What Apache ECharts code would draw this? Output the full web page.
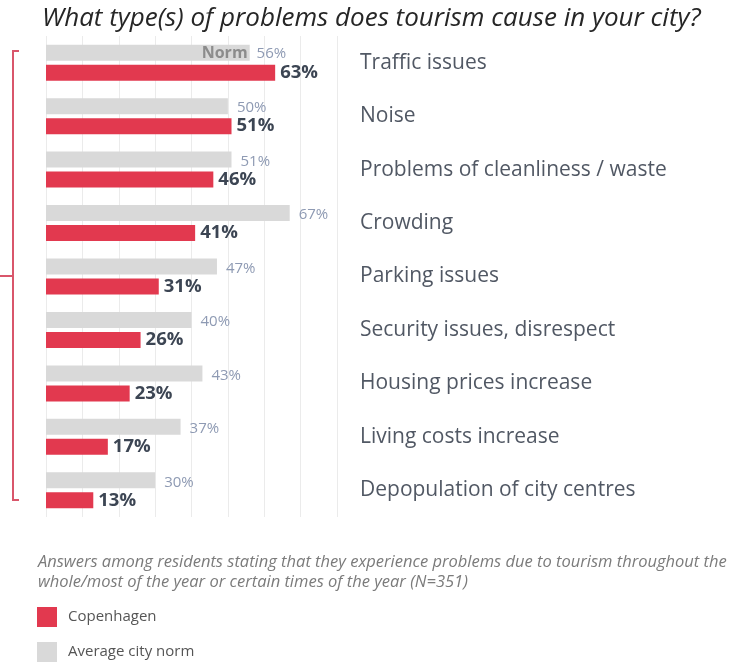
<!DOCTYPE html>
<html>
<head>
<meta charset="utf-8">
<script src="https://cdn.jsdelivr.net/npm/echarts@6/dist/echarts.min.js"></script>
<style>
html,body{margin:0;padding:0;background:#fff;}
#chart{width:731px;height:665px;}
</style>
</head>
<body>
<div id="chart"></div>
<script>
var categories = ['Traffic issues','Noise','Problems of cleanliness / waste','Crowding','Parking issues','Security issues, disrespect','Housing prices increase','Living costs increase','Depopulation of city centres'];
var copenhagen = [63,51,46,41,31,26,23,17,13];
var cityNorm = [56,50,51,67,47,40,43,37,30];
var xTicks = [0,10,20,30,40,50,60,70,80];

var chart = echarts.init(document.getElementById('chart'), null, {renderer:'canvas'});
var FONT = 'Open Sans';

var normData = cityNorm.map(function(v,i){
  if(i===0){
    return {value:v, label:{formatter:'{n|Norm}{v|' + v + '%}', offset:[-57,1]}};
  }
  return v;
});

var option = {
  animation:false,
  backgroundColor:'#fff',
  title:{
    text:'What type(s) of problems does tourism cause in your city?',
    left:37, top:1,
    textStyle:{fontFamily:FONT, fontStyle:'italic', fontWeight:'normal', fontSize:26, color:'#262626'}
  },
  graphic:[
    {type:'polyline', shape:{points:[[19,51],[13,51],[13,500],[19,500]]}, style:{stroke:'#d9566b', lineWidth:2, fill:null}},
    {type:'line', shape:{x1:0,y1:276,x2:13,y2:276}, style:{stroke:'#d9566b', lineWidth:2}},
    {type:'text', left:38, top:552, style:{text:'Answers among residents stating that they experience problems due to tourism throughout the\nwhole/most of the year or certain times of the year (N=351)', font:'italic 16.5px "Open Sans"', fill:'#7b7b7b', lineHeight:20}}
  ],
  legend:{
    data:['Copenhagen','Average city norm'],
    orient:'vertical', left:37, top:607, padding:0,
    itemWidth:20, itemHeight:20, itemGap:15, icon:'rect',
    textStyle:{fontFamily:FONT, fontSize:15, color:'#555', padding:[0,0,0,6]}
  },
  grid:{left:46, right:394, top:36, height:481, containLabel:false},
  xAxis:{
    type:'value', min:0, max:80, interval:10,
    axisLabel:{show:false}, axisLine:{show:false}, axisTick:{show:false},
    splitLine:{show:true, lineStyle:{color:'#ebebeb', width:1}}
  },
  yAxis:{
    type:'category', data:categories, inverse:true, position:'right',
    axisLine:{show:false}, axisTick:{show:false},
    axisLabel:{margin:23, align:'left', fontFamily:FONT, fontSize:21, color:'#515864'}
  },
  series:[
    {
      name:'Average city norm', type:'bar', data:normData,
      barWidth:16, barGap:'25%',
      itemStyle:{color:'#d9d9d9'},
      label:{show:true, position:'right', distance:9, offset:[0,2], formatter:'{c}%', fontFamily:FONT, fontSize:15, color:'#8e9ab3',
        rich:{n:{fontFamily:FONT, fontWeight:'bold', fontSize:16, color:'#8c8c8c', padding:[0,9,0,0]}, v:{fontFamily:FONT, fontSize:15, color:'#8e9ab3'}}}
    },
    {
      name:'Copenhagen', type:'bar', data:copenhagen,
      barWidth:16,
      itemStyle:{color:'#e2394f'},
      label:{show:true, position:'right', distance:5, formatter:'{c}%', fontFamily:FONT, fontWeight:'bold', fontSize:18.5, color:'#3c4553'}
    }
  ]
};
chart.setOption(option);
</script>
</body>
</html>
